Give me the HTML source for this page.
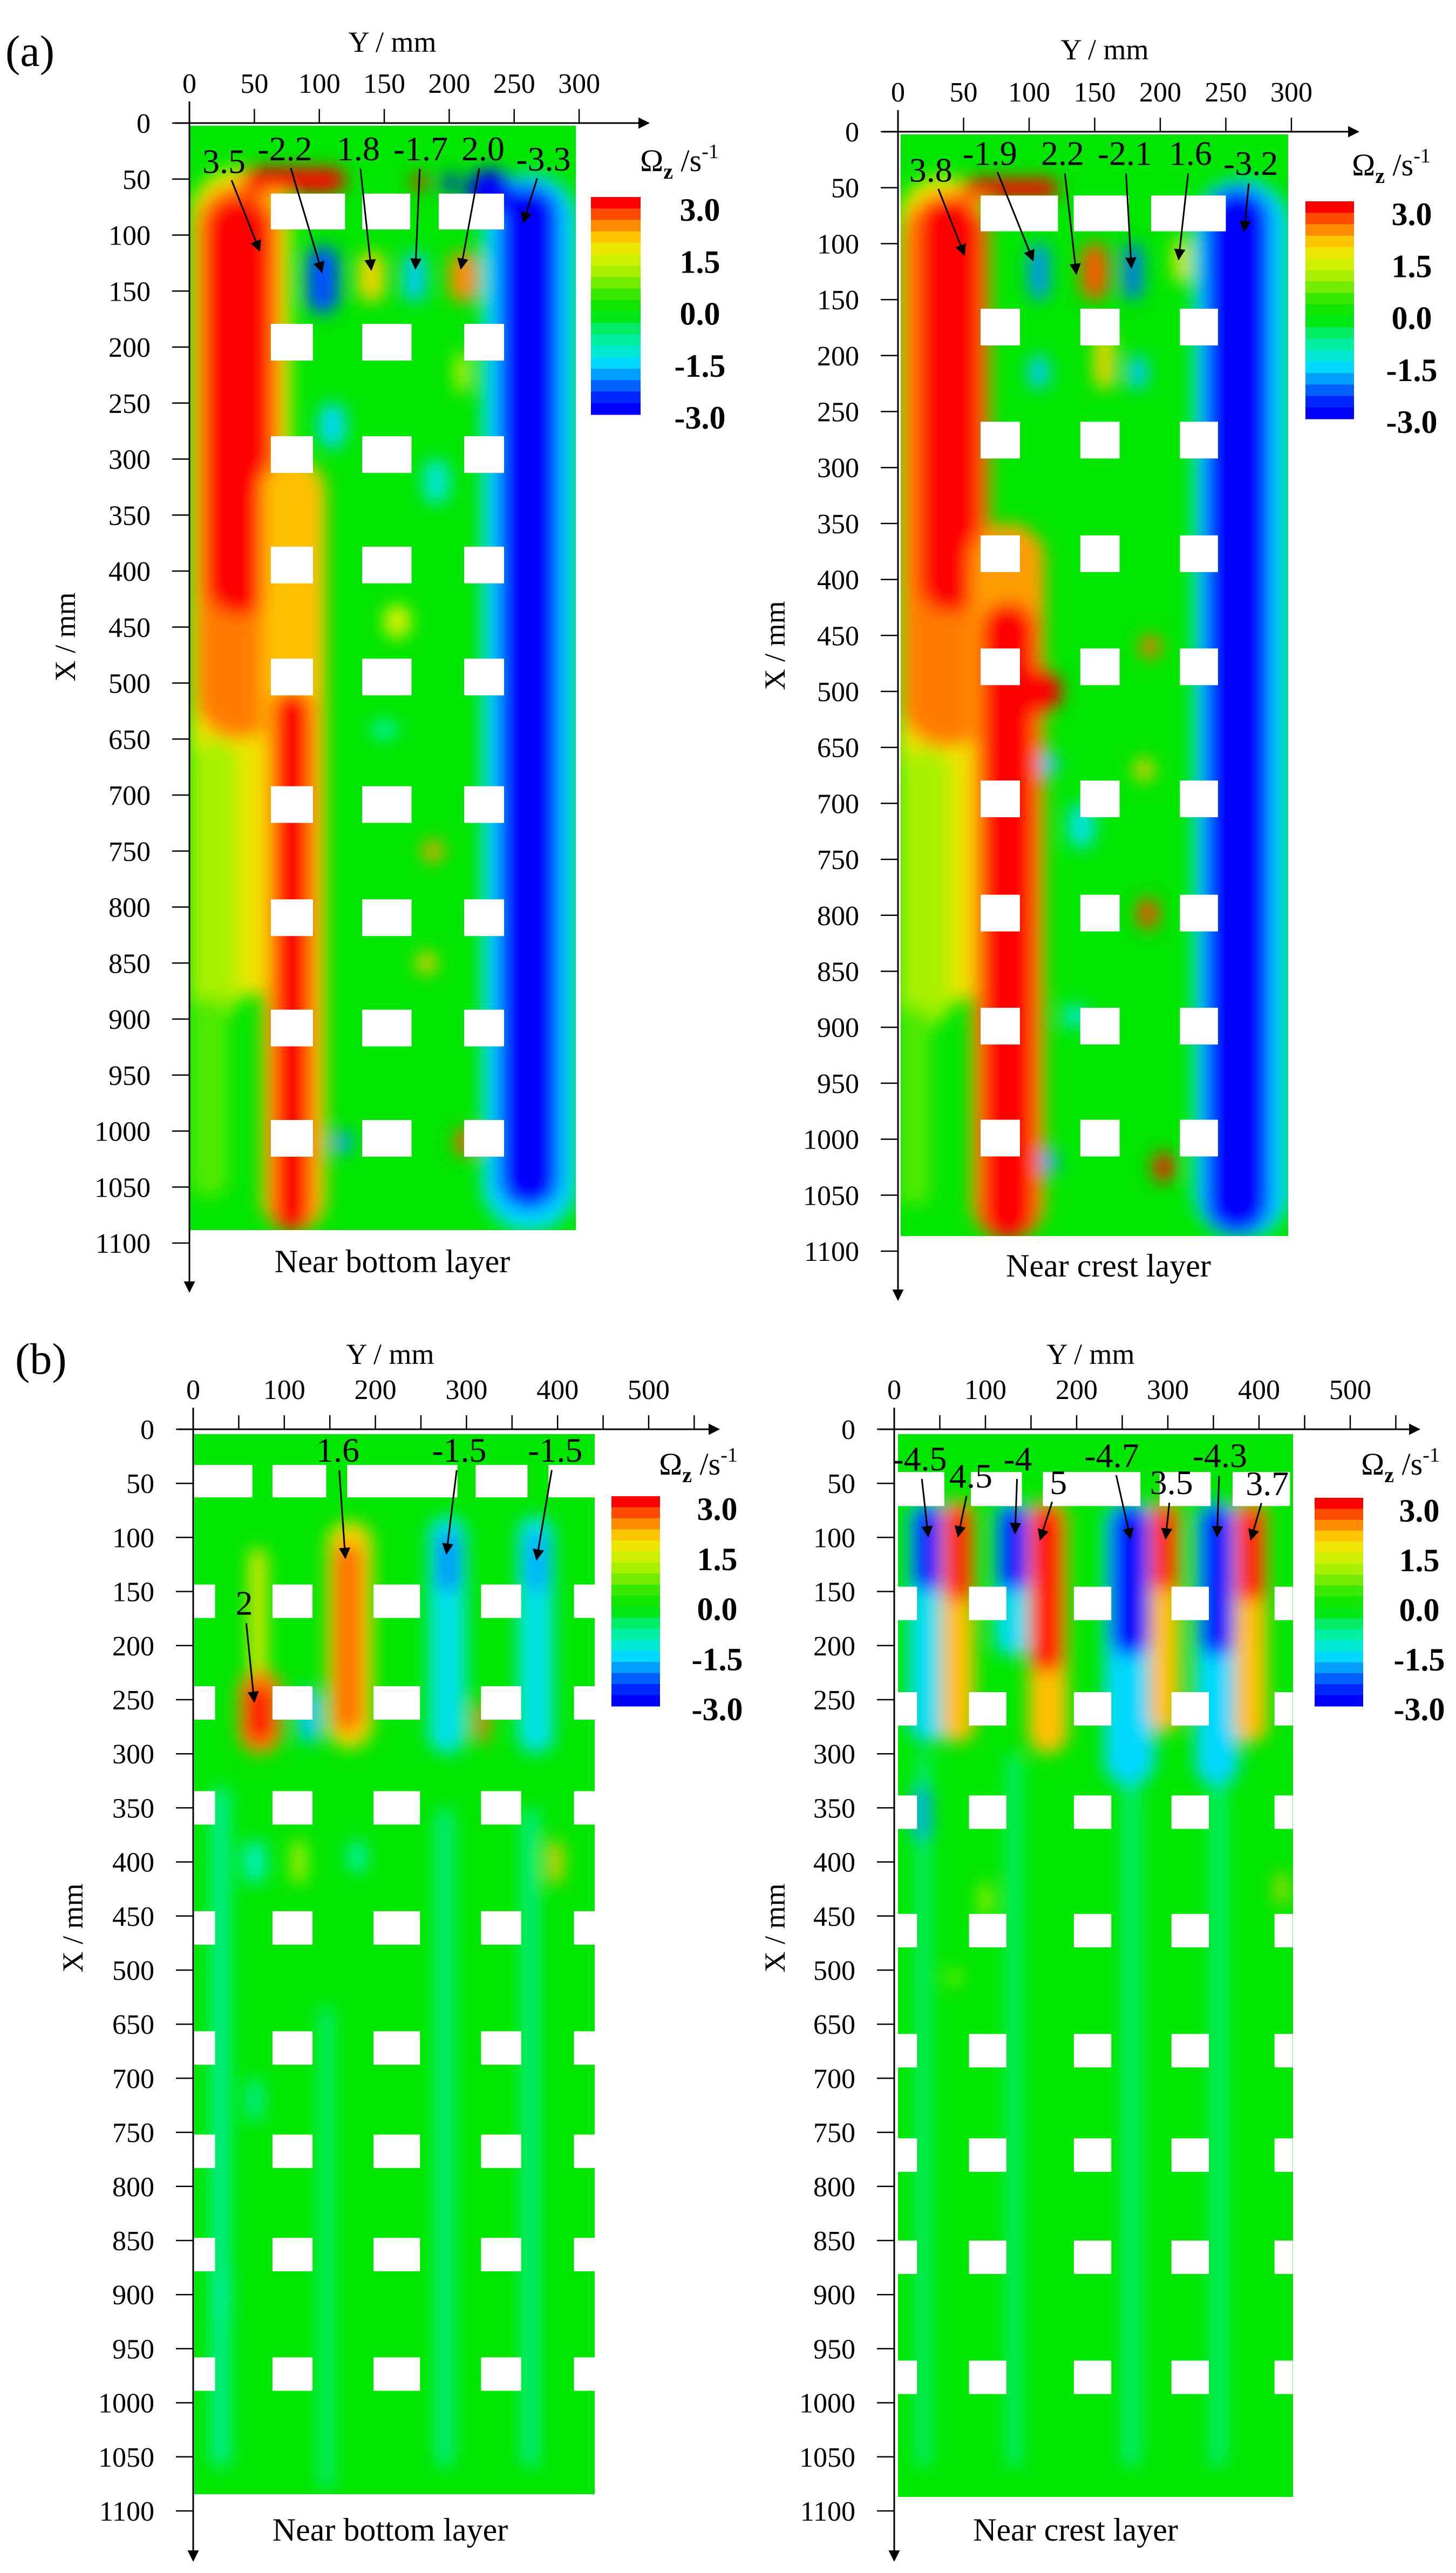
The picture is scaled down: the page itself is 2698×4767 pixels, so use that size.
<!DOCTYPE html>
<html><head><meta charset="utf-8">
<style>
html,body{margin:0;padding:0;background:#fff;}
svg, svg text{font-family:"Liberation Serif","DejaVu Serif","Times New Roman",serif;}
svg{display:block;}
</style></head>
<body>
<svg id="chart" xmlns="http://www.w3.org/2000/svg" width="2698" height="4767" viewBox="0 0 2698 4767" font-family="Liberation Serif, DejaVu Serif, serif">
<defs id="defs">
<marker id="arrowhead" viewBox="0 0 10 10" refX="9" refY="5" markerWidth="7" markerHeight="7" orient="auto-start-reverse"><path d="M0,0 L10,5 L0,10 z" fill="#000"/></marker>
<filter id="blurA" filterUnits="userSpaceOnUse" x="0" y="0" width="2698" height="4767"><feGaussianBlur stdDeviation="16"/></filter>
</defs>
<text x="10" y="122" font-size="82" font-family="Liberation Serif, DejaVu Serif, serif">(a)</text>
<text x="28" y="2545" font-size="82" font-family="Liberation Serif, DejaVu Serif, serif">(b)</text>
</svg>
<script>
// ---------- shared data ----------
const xTickLabels = [0,50,100,150,200,250,300,350,400,450,500,650,700,750,800,850,900,950,1000,1050,1100];
const yTickLabelsA = [0,50,100,150,200,250,300];
const yTickLabelsB = [0,100,200,300,400,500];
const colorbarLabels = ['3.0','1.5','0.0','-1.5','-3.0'];
const colorbarLevels = [3.0,2.65,2.3,1.95,1.6,1.3,1.0,0.7,0.35,0.1,-0.1,-0.45,-0.8,-1.15,-1.5,-1.9,-2.3,-2.7,-3.0];
const cmapVals = [-3,-2.5,-2,-1.5,-1,-0.5,0,0.5,1,1.5,2,2.5,3];
const cmapCols = ['#0000ff','#0040ff','#0090ff','#00d8ff','#00f0c0','#00ee70','#00e600','#50ea00','#a8f000','#e8f000','#ffc000','#ff6a00','#ff0000'];
const FONT = 'Liberation Serif, DejaVu Serif, serif';

// ---------- panel A1 (near bottom, a) ----------
const annoA1Values = ['3.5','-2.2','1.8','-1.7','2.0','-3.3'];
const annoA1Label = [[26.6,34],[73.5,22.6],[130,22.6],[178,22.6],[226,22.6],[272.5,31.8]];
const annoA1Target = [[54,114],[102,133],[140,131],[174,130],[209,130],[257,88.7]];
const pillarA1TopX = [63,95];
const pillarA1TopY = [[62.7,119.8],[133,170],[191.9,242.2]];
const pillarA1RowsX = [195.7,296,394.6,494.6,708.5,809.5,908,1006.5];
const pillarA1ColsY = [[62.7,95.1],[133,171],[211.5,242.2]];
const blobsA1 = [
 [0,78,40,880,1.6],[0,38,650,900,1.0],[0,30,880,1060,0.5],[5,70,55,650,2.4],[12,63,65,440,3.3],[40,120,40,62,3.2],
 [56,105,300,1090,2.0],[64,94,520,1090,3.1],[225,299,45,1090,-1.5],[238,285,55,1070,-3.3],[213,250,42,80,-3.0],
 [90,115,110,170,-2.4],[130,150,115,160,1.8],[165,182,115,160,-1.6],[200,222,115,160,2.3],[172,182,45,60,3.0],[196,206,45,62,-3.0],
 [100,120,250,290,-1.5],[180,195,740,760,2.2],[205,220,998,1022,2.6],[110,125,1000,1020,-1.9],[175,190,840,860,1.9],
 [180,200,300,340,-1.2],[150,170,430,460,1.5],[140,160,600,650,-0.9],[205,215,205,240,1.4]
];

// ---------- panel A2 (near crest, a) ----------
const annoA2Values = ['3.8','-1.9','2.2','-2.1','1.6','-3.2'];
const annoA2Label = [[25,34],[70,19],[125.5,19],[173,19],[223,19],[269,28]];
const annoA2Target = [[50.6,110],[103,115],[136,127],[178,121.5],[214,114],[264,89]];
const pillarA2TopX = [57,89];
const pillarA2TopY = [[63,122],[134,176],[193,250]];
const pillarA2RowsX = [174.5,275.5,377,478,696,798,899,999];
const pillarA2ColsY = [[63,93],[139,169],[215,244]];
const blobsA2 = [
 [0,68,40,880,1.6],[0,40,650,900,1.0],[0,25,880,1060,0.5],[3,70,55,650,2.4],[16,63,57,430,3.3],[48,122,42,60,3.2],
 [56,112,350,1090,2.2],[63,105,420,1090,3.2],[70,125,480,560,3.0],[225,299,42,1090,-1.5],[234,284,50,1085,-3.3],
 [100,115,100,150,-2.0],[140,160,100,150,2.6],[150,165,180,230,1.8],[172,186,100,150,-2.2],[210,222,95,135,1.6],
 [185,200,450,470,2.5],[183,198,785,812,2.7],[195,210,1012,1038,2.9],[108,122,655,675,-1.7],[180,195,660,680,1.9],
 [108,122,1010,1030,-1.9],[100,115,200,230,-1.6],[175,190,200,230,-1.6],[130,150,700,740,-1.3],[125,145,880,900,-1.2]
];

// ---------- panel B1 (near bottom, b) ----------
const annoB1Values = ['1.6','-1.5','-1.5','2'];
const annoB1Label = [[158.8,19],[292,19],[397.4,19],[56,160.5]];
const annoB1Target = [[167,119],[278,115],[377,120.5],[67,252]];
const pillarB1TopX = [33,63];
const pillarB1TopY = [[1,65],[87,146],[169,290],[310,367],[390,441]];
const pillarB1RowsX = [159,253,350,461,672,767.5,863,973.5];
const pillarB1ColsY = [[1,24],[87,131],[198,249],[316,360],[418,441]];
const blobsB1 = [
 [20,40,330,1060,-0.8],[140,152,600,1080,-0.8],[268,284,350,1060,-0.8],[362,378,350,1060,-0.8],
 [147,197,85,295,1.8],[155,185,105,280,2.5],[62,80,110,230,1.6],[50,97,222,300,2.3],[58,88,235,290,3.1],
 [258,300,80,300,-1.3],[268,292,95,150,-2.0],[356,396,80,300,-1.3],[365,390,95,150,-1.8],
 [310,324,252,290,2.4],[115,140,240,290,-1.6],[110,122,380,420,1.5],[390,405,380,420,1.9],
 [55,80,380,420,-1.0],[170,190,380,410,-0.9],[60,75,700,740,-0.9],[25,40,880,920,-1.0]
];

// ---------- panel B2 (near crest, b) ----------
const annoB2Values = ['-4.5','4.5','-4','5','-4.7','3.5','-4.3','3.7'];
const annoB2Label = [[27.8,27],[84,43],[135.5,27],[180,49],[238.5,24],[304,49],[357,24],[409,50]];
const annoB2Target = [[37.3,99],[70,99],[132.5,96],[160,102],[259,101],[297.6,101],[354,99],[391,102]];
const pillarB2TopX = [39.5,71];
const pillarB2TopY = [[0,55],[84,140],[163,270],[291,347],[371,434]];
const pillarB2RowsX = [161,258.5,354,463.5,674.5,771,865.5,976.5];
const pillarB2ColsY = [[4,25],[82,123],[197,238],[304,345],[417,437]];
const blobsB2 = [
 [25,38,300,1060,-0.7],[125,138,300,1060,-0.7],[252,268,330,1060,-0.7],[348,362,330,1060,-0.7],
 [15,60,65,290,-1.4],[20,55,70,150,-3.4],[110,150,65,210,-1.4],[114,147,70,150,-3.4],
 [230,286,65,330,-1.5],[238,280,70,210,-3.4],[330,378,65,330,-1.5],[336,372,70,210,-3.4],
 [52,88,65,290,2.0],[56,85,70,160,3.3],[147,190,65,300,2.0],[150,185,70,225,3.3],
 [280,314,65,280,2.0],[283,310,70,150,3.3],[373,409,65,290,2.0],[376,406,70,160,3.3],
 [20,40,330,380,-1.8],[95,105,420,450,1.5],[420,430,410,440,1.8],[60,72,500,540,1.2]
];

// ---------- panel layout ----------
const panels = [
 {id:'a-bottom', ox:351, oy:228, sx:2.407, step:103.75, heat:[351,233,1067,2279], yTicks:yTickLabelsA, tickMax:300,
  xArrow:1202, yArrow:2393, yTitle:[727,76], xTitle:[121,1180], title:[727,2337], titleText:'Near bottom layer', cb:[1095,365,1187,768], cbX:1297, omega:[1259,299],
  annoV:annoA1Values, annoL:annoA1Label, annoT:annoA1Target, topX:pillarA1TopX, topY:pillarA1TopY, rowsX:pillarA1RowsX, colsY:pillarA1ColsY, pillarH:68, blobs:blobsA1},
 {id:'a-crest', ox:1664, oy:244, sx:2.43, step:103.7, heat:[1669,249,2387,2290], yTicks:yTickLabelsA, tickMax:300,
  xArrow:2517, yArrow:2408, yTitle:[2047,90], xTitle:[1436,1196], title:[2054,2345], titleText:'Near crest layer', cb:[2419,373,2509,776], cbX:2616, omega:[2578,307],
  annoV:annoA2Values, annoL:annoA2Label, annoT:annoA2Target, topX:pillarA2TopX, topY:pillarA2TopY, rowsX:pillarA2RowsX, colsY:pillarA2ColsY, pillarH:68, blobs:blobsA2},
 {id:'b-bottom', ox:358, oy:2648, sx:1.688, step:100.2, heat:[360,2657,1102,4621], yTicks:yTickLabelsB, tickMax:550,
  xArrow:1332, yArrow:4744, yTitle:[723,2507], xTitle:[135,3572], title:[723,4687], titleText:'Near bottom layer', cb:[1133,2772,1223,3161], cbX:1329, omega:[1294,2714],
  annoV:annoB1Values, annoL:annoB1Label, annoT:annoB1Target, topX:pillarB1TopX, topY:pillarB1TopY, rowsX:pillarB1RowsX, colsY:pillarB1ColsY, pillarH:62, blobs:blobsB1},
 {id:'b-crest', ox:1657, oy:2648, sx:1.69, step:100.2, heat:[1664,2657,2396,4626], yTicks:yTickLabelsB, tickMax:550,
  xArrow:2630, yArrow:4744, yTitle:[2021,2507], xTitle:[1436,3572], title:[1993,4687], titleText:'Near crest layer', cb:[2436,2775,2526,3161], cbX:2630, omega:[2595,2714],
  annoV:annoB2Values, annoL:annoB2Label, annoT:annoB2Target, topX:pillarB2TopX, topY:pillarB2TopY, rowsX:pillarB2RowsX, colsY:pillarB2ColsY, pillarH:62, blobs:blobsB2}
];

const NS='http://www.w3.org/2000/svg';
const svg=document.getElementById('chart');
const defs=document.getElementById('defs');
function mk(tag,parent){const e=document.createElementNS(NS,tag);parent.appendChild(e);if(tag==='text')e.setAttribute('font-family',FONT);return e;}
function set(e,o){for(const k in o)e.setAttribute(k,o[k]);return e;}
function hex(c){return [parseInt(c.slice(1,3),16),parseInt(c.slice(3,5),16),parseInt(c.slice(5,7),16)];}
function color(v){
  if(v<=cmapVals[0])return cmapCols[0];
  if(v>=cmapVals[cmapVals.length-1])return cmapCols[cmapCols.length-1];
  for(let i=0;i<cmapVals.length-1;i++){
    if(v>=cmapVals[i]&&v<=cmapVals[i+1]){
      const t=(v-cmapVals[i])/(cmapVals[i+1]-cmapVals[i]);
      const a=hex(cmapCols[i]),b=hex(cmapCols[i+1]);
      return 'rgb('+a.map((x,j)=>Math.round(x+(b[j]-x)*t)).join(',')+')';
    }
  }
}
function xIdx(mm){ if(mm<=500)return mm/50; if(mm<650)return 10+(mm-500)/150; return 11+(mm-650)/50; }
function py(p,mm){return p.oy+xIdx(mm)*p.step;}
function px(p,mm){return p.ox+mm*p.sx;}

panels.forEach(p=>{
  const g=mk('g',svg);
  
  

  const cp=mk('clipPath',defs); cp.setAttribute('id','clip-'+p.id);
  set(mk('rect',cp),{x:p.heat[0],y:p.heat[1],width:p.heat[2]-p.heat[0],height:p.heat[3]-p.heat[1]});
  const hg=mk('g',g); hg.setAttribute('clip-path','url(#clip-'+p.id+')');
  
  
  set(mk('rect',hg),{x:p.heat[0],y:p.heat[1],width:p.heat[2]-p.heat[0],height:p.heat[3]-p.heat[1],fill:color(0)});
  const bg=mk('g',hg); bg.setAttribute('filter','url(#blurA)');
  p.blobs.forEach(b=>{
    const x0=px(p,b[0]),x1=px(p,b[1]),y0=py(p,b[2]),y1=py(p,b[3]);
    const r=mk('rect',bg);
    
    
    const w=x1-x0,h=y1-y0,rr=Math.min(w,h)/2;
    set(r,{x:x0,y:y0,width:w,height:h,rx:rr,ry:rr,fill:color(b[4])});
  });
  const pg=mk('g',g);
  
  
  p.topY.forEach(yr=>{
    const r=mk('rect',pg);
    
    
    set(r,{x:px(p,yr[0]),y:py(p,p.topX[0]),width:px(p,yr[1])-px(p,yr[0]),height:py(p,p.topX[1])-py(p,p.topX[0]),fill:'#fff'});
  });
  p.rowsX.forEach(xc=>{
    p.colsY.forEach(yr=>{
      const r=mk('rect',pg);
      
      
      set(r,{x:px(p,yr[0]),y:py(p,xc)-p.pillarH/2,width:px(p,yr[1])-px(p,yr[0]),height:p.pillarH,fill:'#fff'});
    });
  });

  const ax=mk('g',g);
  
  
  set(mk('line',ax),{x1:p.ox-28,y1:p.oy,x2:p.xArrow,y2:p.oy,stroke:'#000','stroke-width':3,'marker-end':'url(#arrowhead)'});
  set(mk('line',ax),{x1:p.ox,y1:p.oy-40,x2:p.ox,y2:p.yArrow,stroke:'#000','stroke-width':3,'marker-end':'url(#arrowhead)'});
  for(let mm=0;mm<=p.tickMax;mm+=50){
    set(mk('line',ax),{x1:px(p,mm),y1:p.oy,x2:px(p,mm),y2:p.oy-26,stroke:'#000','stroke-width':2.5});
  }
  p.yTicks.forEach(v=>{
    const t=mk('text',ax);
    
    
    set(t,{x:px(p,v),y:p.oy-56,'font-size':52,'text-anchor':'middle'});
    t.textContent=v;
  });
  xTickLabels.forEach(v=>{
    const y=py(p,v);
    set(mk('line',ax),{x1:p.ox-32,y1:y,x2:p.ox,y2:y,stroke:'#000','stroke-width':2.5});
    const t=mk('text',ax);
    
    
    set(t,{x:p.ox-72,y:y+18,'font-size':52,'text-anchor':'end'});
    t.textContent=v;
  });
  const yt=mk('text',ax);
  
  
  set(yt,{x:p.yTitle[0],y:p.yTitle[1]+20,'font-size':54,'text-anchor':'middle'}); yt.textContent='Y / mm';
  const xt=mk('text',ax);
  
  
  set(xt,{x:0,y:0,'font-size':54,'text-anchor':'middle',transform:'translate('+(p.xTitle[0]+18)+','+p.xTitle[1]+') rotate(-90)'}); xt.textContent='X / mm';
  const tt=mk('text',g);
  
  
  set(tt,{x:p.title[0],y:p.title[1]+20,'font-size':60,'text-anchor':'middle'}); tt.textContent=p.titleText;

  const cb=mk('g',g);
  
  
  const bh=(p.cb[3]-p.cb[1])/colorbarLevels.length;
  colorbarLevels.forEach((v,i)=>{
    const r=mk('rect',cb);
    
    
    set(r,{x:p.cb[0],y:p.cb[1]+i*bh,width:p.cb[2]-p.cb[0],height:bh+0.6,fill:color(v)});
  });
  colorbarLabels.forEach((s,i)=>{
    const t=mk('text',cb);
    
    
    set(t,{x:p.cbX,y:p.cb[1]+24+i*(p.cb[3]-p.cb[1]+6-24)/4+20,'font-size':60,'font-weight':'bold','text-anchor':'middle'});
    t.textContent=s;
  });
  const om=mk('text',cb);
  
  
  set(om,{x:p.omega[0],y:p.omega[1]+18,'font-size':58,'text-anchor':'middle'});
  om.innerHTML='Ω<tspan font-size="40" font-weight="bold" dy="14">z</tspan><tspan dy="-14"> /s</tspan><tspan font-size="38" dy="-24">-1</tspan>';

  p.annoV.forEach((s,i)=>{
    const lx=px(p,p.annoL[i][0]),ly=py(p,p.annoL[i][1]);
    const tx=px(p,p.annoT[i][0]),ty=py(p,p.annoT[i][1]);
    const t=mk('text',g);
    
    
    set(t,{x:lx,y:ly+22,'font-size':64,'text-anchor':'middle'});
    t.textContent=s;
    const dx=tx-lx,dy=ty-ly,d=Math.hypot(dx,dy);
    const l=mk('line',g);
    
    
    set(l,{x1:lx+dx/d*38,y1:ly+dy/d*38,x2:tx,y2:ty,stroke:'#000','stroke-width':3,'marker-end':'url(#arrowhead)'});
  });
});
</script>
</body></html>
